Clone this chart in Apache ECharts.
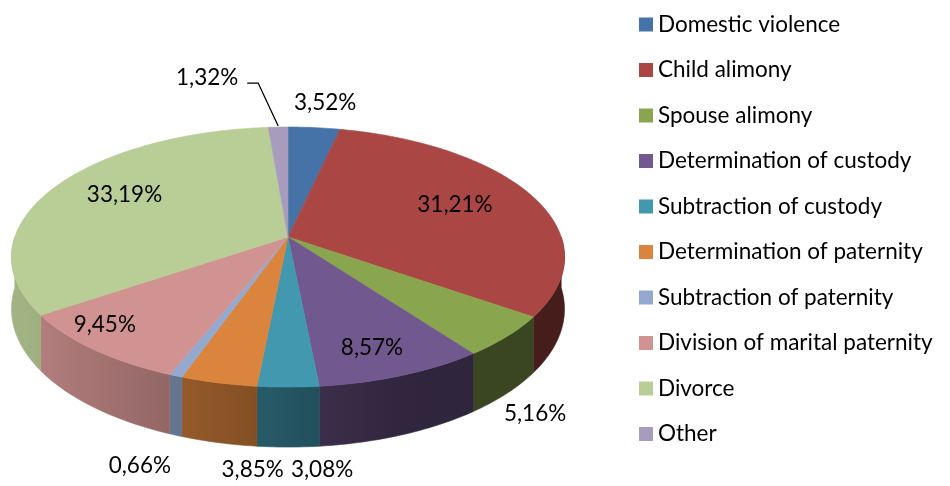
<!DOCTYPE html>
<html>
<head>
<meta charset="utf-8">
<script src="https://cdn.jsdelivr.net/npm/echarts@6/dist/echarts.min.js"></script>
<style>
  html, body { margin: 0; padding: 0; background: #fff; }
  #chart { width: 950px; height: 486px; }
</style>
</head>
<body>
<div id="chart"></div>
<script>
const categories = [
  'Domestic violence', 'Child alimony', 'Spouse alimony', 'Determination of custody',
  'Subtraction of custody', 'Determination of paternity', 'Subtraction of paternity',
  'Division of marital paternity', 'Divorce', 'Other'
]
const shares = [3.52, 31.21, 5.16, 8.57, 3.08, 3.85, 0.66, 9.45, 33.19, 1.32]
const colors = ['#4572A7', '#AA4643', '#89A54E', '#71588F', '#4198AF', '#DB843D', '#93A9CF', '#D19392', '#B9CD96', '#A99BBD']

// pie geometry in px: projected centre, radius scale, tilt, perspective and wall height
const CX = 288, CY = 237, K = 273.2, SIN_TILT = 0.4646, PERSP = 0.154, WALL = 50.8
// label placement per slice: [mode, radius fraction, dx, dy]
// 'in' = along centre->rim, 'rim' = on top rim, 'side' = bottom of the side wall
const labelPlace = [
  ['rim', 1, 11, -25],
  ['in', 0.7, -2, -2],
  ['side', 1, 28, 20],
  ['in', 0.77, -4, 4],
  ['side', 1, 34, 23],
  ['side', 1, 34, 27],
  ['side', 1, -36, 31],
  ['in', 0.86, -16, -9],
  ['in', 0.72, 3, -5],
  ['rim', 1, -71, -49]
]
const FONT = 'Lato'
const FONT_SIZE = 22.5

const total = shares.reduce((a, b) => a + b, 0)
const cumStart = []
shares.reduce((acc, v, i) => { cumStart[i] = acc; return acc + v }, 0)

// point on the rim for angle phi (deg, clockwise from 12 o'clock), optionally at the wall bottom
function rim(phi, wall) {
  const a = phi * Math.PI / 180
  const d = 1 + PERSP * Math.cos(a)
  return [CX + K * Math.sin(a) / d, CY - K * SIN_TILT * Math.cos(a) / d + (wall ? WALL / d : 0)]
}
function arc(a, b, wall) {
  const n = Math.max(2, Math.ceil(Math.abs(b - a)))
  const pts = []
  for (let k = 0; k <= n; k++) pts.push(rim(a + (b - a) * k / n, wall))
  return pts
}
function shade(hex, f) {
  const n = parseInt(hex.slice(1), 16)
  const r = Math.round(((n >> 16) & 255) * f)
  const g = Math.round(((n >> 8) & 255) * f)
  const b = Math.round((n & 255) * f)
  return 'rgb(' + r + ',' + g + ',' + b + ')'
}
function sideFactor(x) {
  const xn = (x - CX) / K
  return Math.min(0.88, Math.max(0.42, 0.56 - 0.32 * xn))
}

function renderItem(params, api) {
  const i = params.dataIndex
  const v = api.value(0)
  const start = cumStart[i] / total * 360
  const end = (cumStart[i] + v) / total * 360
  const color = colors[i]
  const children = []

  // front side wall (only the part facing the viewer)
  const s0 = Math.max(start, 90), s1 = Math.min(end, 270)
  if (s1 > s0) {
    const top = arc(s0, s1, false)
    const bottom = arc(s1, s0, true)
    const xl = rim(s1)[0], xr = rim(s0)[0]
    const stops = []
    for (let k = 0; k <= 4; k++) {
      const x = xl + (xr - xl) * k / 4
      stops.push({ offset: k / 4, color: shade(color, sideFactor(x)) })
    }
    const grad = new echarts.graphic.LinearGradient(xl, 0, xr, 0, stops, true)
    children.push({
      type: 'polygon',
      z2: 1,
      shape: { points: top.concat(bottom) },
      style: { fill: grad, stroke: grad, lineWidth: 0.6 }
    })
  }

  // top face
  children.push({
    type: 'polygon',
    z2: 2,
    shape: { points: [[CX, CY]].concat(arc(start, end, false)) },
    style: { fill: color, stroke: color, lineWidth: 0.6 }
  })

  // label
  const mid = (start + end) / 2
  const lp = labelPlace[i]
  let anchor
  if (lp[0] === 'in') {
    const p = rim(mid)
    anchor = [CX + (p[0] - CX) * lp[1], CY + (p[1] - CY) * lp[1]]
  } else {
    anchor = rim(mid, lp[0] === 'side')
  }
  const text = v.toFixed(2).replace('.', ',') + '%'
  children.push({
    type: 'text',
    z2: 10,
    x: anchor[0] + lp[2],
    y: anchor[1] + lp[3],
    style: {
      text: text,
      fill: '#000',
      font: FONT_SIZE + 'px ' + FONT,
      align: 'center',
      verticalAlign: 'middle'
    }
  })
  // leader line for the small top slice
  if (i === shares.length - 1) {
    const p = rim(mid)
    p[1] -= 1
    children.push({
      type: 'polyline',
      z2: 10,
      shape: { points: [p, [p[0] - 20, p[1] - 43], [p[0] - 31, p[1] - 43]] },
      style: { stroke: '#000', lineWidth: 1.3, fill: null }
    })
  }
  return { type: 'group', children: children }
}

const chart = echarts.init(document.getElementById('chart'))
chart.setOption({
  animation: false,
  color: colors,
  legend: {
    orient: 'vertical',
    left: 634,
    top: 8,
    icon: 'rect',
    itemWidth: 14,
    itemHeight: 14,
    itemGap: 22.5,
    data: categories,
    textStyle: { fontFamily: FONT, fontSize: FONT_SIZE, color: '#000', lineHeight: 22 }
  },
  series: [
    {
      type: 'custom',
      coordinateSystem: 'none',
      silent: true,
      renderItem: renderItem,
      data: shares
    },
    {
      // off-screen pie, only feeds the legend
      type: 'pie',
      center: [-1000, -1000],
      radius: 5,
      silent: true,
      label: { show: false },
      labelLine: { show: false },
      data: categories.map((name, i) => ({ name: name, value: shares[i] }))
    }
  ]
})
</script>
</body>
</html>
